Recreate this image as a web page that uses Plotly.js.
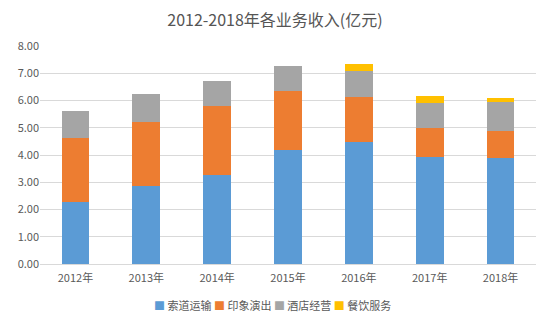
<!DOCTYPE html>
<html><head><meta charset="utf-8">
<script src="https://cdn.plot.ly/plotly-3.0.1.min.js"></script>
<style>html,body{margin:0;padding:0;background:#fff}</style>
</head><body><div id="c" style="width:550px;height:321px"></div>
<script>
const years = ['2012年','2013年','2014年','2015年','2016年','2017年','2018年'];
const cableway = [2.26, 2.87, 3.27, 4.17, 4.47, 3.92, 3.90];
const show = [2.37, 2.34, 2.53, 2.17, 1.66, 1.07, 0.99];
const hotel = [0.98, 1.04, 0.93, 0.94, 0.95, 0.93, 1.05];
const catering = [0, 0, 0, 0, 0.27, 0.23, 0.14];
const names = ['索道运输','印象演出','酒店经营','餐饮服务'];
const colors = ['#5B9BD5','#ED7D31','#A5A5A5','#FFC000'];
const series = [cableway, show, hotel, catering];
const cjk = '"Noto Sans CJK SC", sans-serif';
const data = series.map((s,i)=>({type:'bar', x:years, y:s, name:names[i], marker:{color:colors[i]}, hoverinfo:'y'}));
const legendText = names.map((n,i)=>'<span style="color:'+colors[i]+'">■</span> '+n).join(' ');
const layout = {
  width:550, height:321, barmode:'stack', bargap:0.61,
  margin:{l:40, r:14, t:46, b:57, autoexpand:false},
  paper_bgcolor:'#fff', plot_bgcolor:'#fff',
  title:{text:'2012-2018年各业务收入(亿元)', font:{family:cjk, size:16, color:'#555555'}, x:0.5, xanchor:'center', y:0.935, yanchor:'middle'},
  xaxis:{tickfont:{family:cjk, size:11, color:'#595959'}, showline:true, linecolor:'#D9D9D9', ticks:'', automargin:false, ticklabelstandoff:4},
  yaxis:{range:[0,8], dtick:1, tickformat:'.2f', tickfont:{family:cjk, size:11, color:'#595959'}, gridcolor:'#D9D9D9', zeroline:false, ticks:'', showline:false, automargin:false},
  showlegend:false,
  annotations:[{text:legendText, xref:'paper', yref:'paper', x:(272-40)/496, y:-41/218, xanchor:'center', yanchor:'middle', showarrow:false, font:{family:cjk, size:11, color:'#595959'}}]
};
Plotly.newPlot('c', data, layout, {displayModeBar:false, staticPlot:true});
</script></body></html>
